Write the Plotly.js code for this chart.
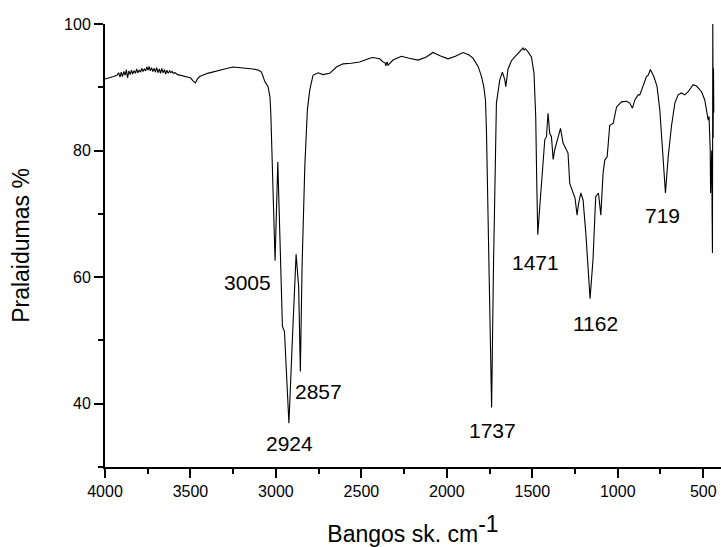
<!DOCTYPE html>
<html>
<head>
<meta charset="utf-8">
<script src="https://cdn.plot.ly/plotly-3.0.1.min.js"></script>
<style>html,body{margin:0;padding:0;background:#fff;}#chart{width:721px;height:547px;}</style>
</head>
<body>
<div id="chart"></div>
<script>
// Spectrum: wavenumber (cm-1) and transmittance (%)
const wavenumber = [
4000, 3970, 3950, 3930, 3920, 3912, 3905, 3898, 3890, 3882, 3875, 3868, 3860, 3852, 3845, 3838, 3830, 3822, 3815, 3808,
3800, 3792, 3785, 3778, 3770, 3762, 3755, 3748, 3742, 3735, 3728, 3720, 3712, 3705, 3698, 3690, 3682, 3675, 3668, 3660,
3652, 3645, 3638, 3630, 3622, 3615, 3608, 3600, 3590, 3575, 3540, 3500, 3485, 3471, 3460, 3446, 3400, 3350, 3300, 3251,
3200, 3134, 3100, 3085, 3075, 3065, 3046, 3035, 3030, 3020, 3005, 2989, 2978, 2962, 2950, 2924, 2902, 2882, 2867, 2857,
2847, 2831, 2816, 2802, 2783, 2754, 2724, 2685, 2646, 2607, 2560, 2510, 2451, 2432, 2393, 2373, 2362, 2357, 2350, 2344,
2315, 2266, 2220, 2168, 2120, 2081, 2040, 1993, 1950, 1905, 1870, 1847, 1817, 1797, 1784, 1774, 1768, 1762, 1752, 1738,
1732, 1727, 1720, 1714, 1710, 1690, 1675, 1661, 1655, 1642, 1622, 1600, 1583, 1565, 1554, 1548, 1540, 1525, 1505, 1490,
1480, 1474, 1468, 1458, 1448, 1437, 1427, 1417, 1408, 1402, 1398, 1388, 1378, 1369, 1349, 1335, 1320, 1305, 1291, 1281,
1265, 1250, 1238, 1230, 1216, 1203, 1187, 1175, 1162, 1145, 1129, 1113, 1099, 1086, 1076, 1062, 1047, 1027, 1007, 978,
949, 930, 914, 900, 881, 871, 852, 832, 822, 809, 800, 789, 770, 754, 738, 721, 705, 686, 666, 647,
627, 608, 588, 559, 539, 510, 491, 481, 471, 466, 462, 459, 457, 455, 453, 450, 448, 446, 444, 442,
440, 438];
const transmittance = [
91.3, 91.5, 91.7, 91.9, 92.3, 91.6, 92.4, 91.7, 92.5, 91.9, 92.8, 91.5, 92.6, 92.0, 92.7, 92.1, 92.6, 92.2, 92.9, 92.3,
92.7, 92.4, 93.0, 92.5, 92.9, 92.6, 93.2, 92.7, 93.3, 92.6, 93.1, 92.5, 93.0, 92.4, 93.1, 92.3, 92.9, 92.2, 93.0, 92.3,
92.8, 92.1, 92.7, 92.2, 92.6, 92.3, 92.5, 92.2, 92.3, 92.0, 91.8, 91.5, 91.0, 90.7, 91.3, 91.7, 92.2, 92.6, 92.9, 93.2,
93.1, 92.9, 92.7, 92.4, 91.7, 90.9, 90.1, 88.5, 86.0, 77.5, 62.6, 78.2, 67.0, 52.2, 51.4, 36.9, 51.2, 63.6, 58.5, 45.1,
61.7, 77.5, 86.4, 89.6, 91.9, 92.3, 92.0, 92.2, 93.2, 93.7, 93.8, 94.0, 94.6, 94.7, 94.5, 94.0, 93.9, 93.4, 94.0, 93.5,
94.3, 94.9, 94.6, 94.3, 94.8, 95.5, 95.0, 94.5, 94.9, 95.5, 95.1, 94.6, 93.3, 91.7, 90.1, 88.0, 82.8, 72.2, 59.6, 39.4,
54.3, 62.0, 72.2, 82.8, 87.5, 91.2, 92.4, 91.2, 90.1, 92.9, 94.2, 94.9, 95.4, 95.8, 96.2, 95.9, 96.1, 95.6, 94.8, 92.2,
85.4, 75.0, 66.7, 70.5, 74.3, 78.0, 81.7, 82.2, 85.9, 84.0, 82.7, 82.2, 78.6, 80.1, 82.2, 83.5, 81.2, 80.4, 79.6, 74.8,
73.5, 72.5, 69.8, 71.5, 73.3, 72.2, 67.0, 61.0, 56.6, 62.7, 72.7, 73.3, 69.8, 76.4, 78.5, 79.0, 84.0, 84.3, 86.9, 87.7,
87.8, 87.5, 86.7, 88.0, 88.8, 88.8, 90.4, 91.7, 91.9, 92.8, 92.3, 91.7, 90.1, 86.4, 80.1, 73.3, 79.0, 83.8, 87.5, 88.8,
89.1, 88.8, 89.3, 90.4, 90.2, 89.3, 88.0, 86.4, 84.8, 85.4, 82.0, 80.0, 73.3, 78.0, 74.0, 80.0, 70.0, 63.8, 100.0, 82.0,
93.0, 86.0];

// Peak labels
const peakLabels = ["3005", "2924", "2857", "1737", "1471", "1162", "719"];
const labelX = [3168, 2919, 2750, 1731, 1480, 1128, 739];
const labelY = [59.2, 33.7, 41.9, 35.7, 62.3, 52.6, 69.8];

const FONT = "Liberation Sans, Arial, sans-serif";

const trace = {
  x: wavenumber,
  y: transmittance,
  type: "scatter",
  mode: "lines",
  line: {color: "#000", width: 1.1},
  hoverinfo: "x+y",
  cliponaxis: false
};

const annotations = peakLabels.map((t, i) => ({
  x: labelX[i], y: labelY[i], xref: "x", yref: "y",
  text: t, showarrow: false,
  font: {family: FONT, size: 21, color: "#000"},
  xanchor: "center", yanchor: "middle"
}));

const layout = {
  width: 721, height: 547,
  margin: {l: 105, r: 0, t: 24, b: 80, autoexpand: false},
  paper_bgcolor: "#fff", plot_bgcolor: "#fff",
  showlegend: false,
  font: {family: FONT, color: "#000"},
  xaxis: {
    range: [4000, 396],
    showline: true, linecolor: "#000", linewidth: 2, mirror: false,
    ticks: "outside", ticklen: 9, tickwidth: 2, tickcolor: "#000",
    tick0: 0, dtick: 500,
    minor: {dtick: 250, tick0: 0, ticks: "outside", ticklen: 5, tickwidth: 2, tickcolor: "#000", showgrid: false},
    showgrid: false, zeroline: false,
    tickfont: {family: FONT, size: 16, color: "#000"},
    title: {text: "Bangos sk. cm<sup><span style=\"font-size:23px\">-1</span></sup>", font: {family: FONT, size: 23, color: "#000"}, standoff: 27}
  },
  yaxis: {
    range: [30, 100],
    showline: true, linecolor: "#000", linewidth: 2,
    ticks: "outside", ticklen: 9, tickwidth: 2, tickcolor: "#000",
    tick0: 0, dtick: 20,
    minor: {dtick: 10, tick0: 0, ticks: "outside", ticklen: 5, tickwidth: 2, tickcolor: "#000", showgrid: false},
    showgrid: false, zeroline: false,
    tickfont: {family: FONT, size: 16, color: "#000"},
    title: {text: "Pralaidumas %", font: {family: FONT, size: 23, color: "#000"}, standoff: 28}
  },
  annotations: annotations
};

Plotly.newPlot("chart", [trace], layout, {displayModeBar: false, staticPlot: true});
</script>
</body>
</html>
